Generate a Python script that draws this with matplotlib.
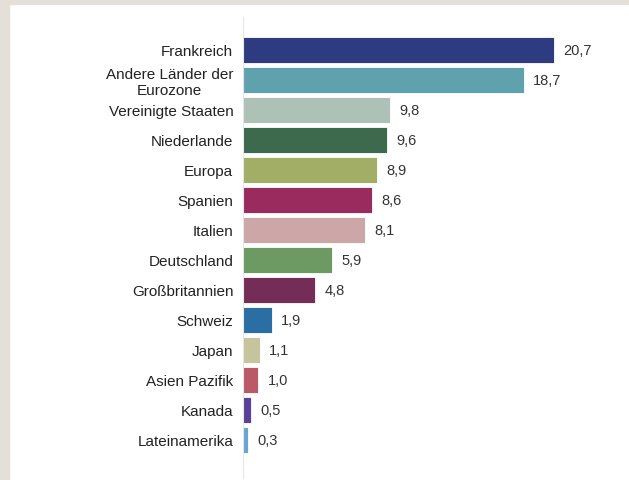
import matplotlib.pyplot as plt
from matplotlib.patches import Rectangle

plt.rcParams['font.family'] = ['Liberation Sans', 'DejaVu Sans']

laender = ['Frankreich', 'Andere Länder der\nEurozone', 'Vereinigte Staaten', 'Niederlande',
           'Europa', 'Spanien', 'Italien', 'Deutschland', 'Großbritannien', 'Schweiz',
           'Japan', 'Asien Pazifik', 'Kanada', 'Lateinamerika']
werte = [20.7, 18.7, 9.8, 9.6, 8.9, 8.6, 8.1, 5.9, 4.8, 1.9, 1.1, 1.0, 0.5, 0.3]
farben = ['#2f3b80', '#5fa2ae', '#adc1b7', '#3d6a4c', '#a2ae66', '#9a2b5e', '#cda7a7',
          '#6c9a62', '#742d56', '#2b6ea4', '#c5c49c', '#bb5969', '#5a3f9b', '#6aa3d5']

fig = plt.figure(figsize=(6.29, 4.81), dpi=100)
# beiger Rahmen oben und links
fig.patches.append(Rectangle((0, 0), 9 / 629, 1, transform=fig.transFigure,
                             color='#e4dfd9', zorder=0))
fig.patches.append(Rectangle((0, 1 - 5 / 481), 1, 5 / 481, transform=fig.transFigure,
                             color='#e4dfd9', zorder=0))

ax = fig.add_axes([243 / 629, 2 / 481, 375 / 629, 461 / 481])
pos = list(range(len(laender)))
ax.barh(pos, werte, height=0.86, color=farben, edgecolor='white', linewidth=0.6)

for p, w in zip(pos, werte):
    ax.text(w + 0.65, p, f'{w:.1f}'.replace('.', ','), va='center', ha='left',
            fontsize=10.5, color='#333333')

ax.set_xlim(0, 25)
ax.set_ylim(14.27, -1.1)
ax.set_yticks(pos)
ax.set_yticklabels(laender, fontsize=11, color='#222222')
for t in ax.get_yticklabels():
    t.set_multialignment('center')
    t.set_linespacing(1.1)
ax.tick_params(axis='y', length=0, pad=7)
ax.set_xticks([])
for s in ['top', 'right', 'bottom']:
    ax.spines[s].set_visible(False)
ax.spines['left'].set_color('#e6e6e6')
ax.spines['left'].set_linewidth(0.8)

plt.savefig('out.png', dpi=100)
